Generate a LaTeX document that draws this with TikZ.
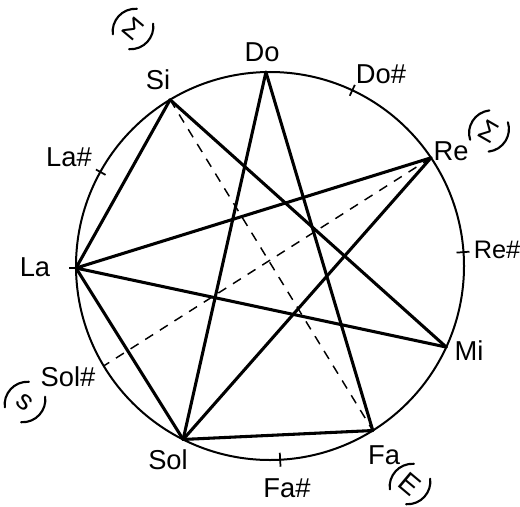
\documentclass[tikz,border=0pt]{standalone}
\usepackage{fontspec}
\setmainfont{Liberation Sans}
\begin{document}
\begin{tikzpicture}[x=0.75pt,y=0.75pt,
  circ/.style={line width=1.5pt},
  chord/.style={line width=2.3pt, line cap=round},
  dchord/.style={line width=1.1pt, dash pattern=on 7pt off 6pt},
  tick/.style={line width=1.3pt},
  paren/.style={line width=1.6pt, line cap=round},
  lab/.style={font=\fontsize{20.5}{24}\selectfont, inner sep=0pt},
  ann/.style={font=\fontsize{21}{24}\selectfont, inner sep=0pt}]
\useasboundingbox (0,0) rectangle (520,-506);
\begin{scope}[shift={(270,-266)}]
  \draw[circ] (0,0) circle (194);
  % points on the circle
  \coordinate (Do)   at (91.2:194);
  \coordinate (Dos)  at (64.9:194);
  \coordinate (Re)   at (33.9:194);
  \coordinate (Res)  at (4.1:194);
  \coordinate (Mi)   at (-24.7:194);
  \coordinate (Fa)   at (-58:194);
  \coordinate (Fas)  at (-87:194);
  \coordinate (Sol)  at (-116.6:194);
  \coordinate (Sols) at (-149:194);
  \coordinate (La)   at (180.6:194);
  \coordinate (Las)  at (151:194);
  \coordinate (Si)   at (121:194);
  % ticks
  \coordinate (Dos1) at (64.9:188); \coordinate (Dos2) at (64.9:200);
  \coordinate (Res1) at (4.1:187);  \coordinate (Res2) at (4.1:200);
  \coordinate (Fas1) at (-87:187);  \coordinate (Fas2) at (-87:201);
  \coordinate (Las1) at (151:188);  \coordinate (Las2) at (151:199);
  \coordinate (La1)  at (180.6:187); \coordinate (La2) at (180.6:201);
  \draw[tick] (Dos1) -- (Dos2);
  \draw[tick] (Res1) -- (Res2);
  \draw[tick] (Fas1) -- (Fas2);
  \draw[tick] (Las1) -- (Las2);
  \draw[tick] (La1) -- (La2);
  % solid chords
  \draw[chord] (Do) -- (Fa);
  \draw[chord] (Do) -- (Sol);
  \draw[chord] (Si) -- (La);
  \draw[chord] (Si) -- (Mi);
  \draw[chord] (La) -- (Re);
  \draw[chord] (La) -- (Mi);
  \draw[chord] (La) -- (Sol);
  \draw[chord] (Sol) -- (Re);
  \draw[chord] (Sol) -- (Fa);
  % dashed chords
  \draw[dchord] (Si) -- (Fa);
  \draw[dchord] (Re) -- (Sols);
  % labels
  \node[lab] (lDo)   at (-8,214)    {Do};
  \node[lab] (lDos)  at (111,192)   {Do\#};
  \node[lab] (lRe)   at (181,115)   {Re};
  \node[lab, font=\fontsize{19}{22}\selectfont] (lRes) at (227,16) {Re\#};
  \node[lab] (lMi)   at (199,-85)   {Mi};
  \node[lab] (lFa)   at (114,-189)  {Fa};
  \node[lab] (lFas)  at (17,-222)   {Fa\#};
  \node[lab] (lSol)  at (-102,-194) {Sol};
  \node[lab] (lSols) at (-202,-111) {Sol\#};
  \node[lab] (lLa)   at (-235,-1)   {La};
  \node[lab] (lLas)  at (-201,109)  {La\#};
  \node[lab] (lSi)   at (-112,186)  {Si};
  % annotations (letter + hand-drawn parentheses)
  \node[ann, rotate=-40] (a1) at (-137,237)  {Σ};
  \node[ann, rotate=-30] (a2) at (219,135)   {Σ};
  \node[ann, rotate=-40] (a3) at (-245,-136) {s};
  \node[ann, rotate=-40] (a4) at (140,-218)  {E};
  \foreach \p/\r in {a1/-40, a2/-30, a3/-40, a4/-40}{
    \begin{scope}[shift={(\p.center)}, rotate=\r]
      \draw[paren] (-10,18) .. controls (-22,9) and (-22,-8) .. (-12,-17);
      \draw[paren] (10,-18) .. controls (22,-9) and (22,8) .. (12,17);
    \end{scope}
  }
\end{scope}
\end{tikzpicture}
\end{document}
